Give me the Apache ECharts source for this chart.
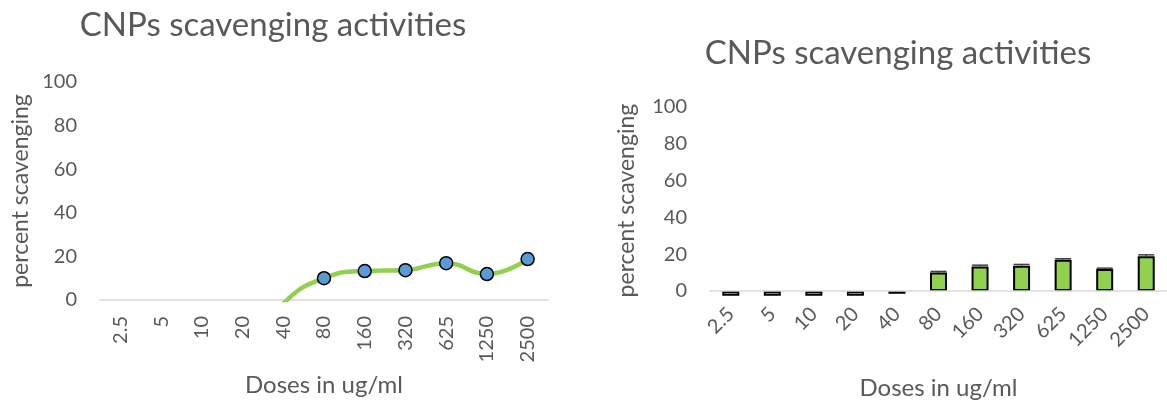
<!DOCTYPE html>
<html>
<head>
<meta charset="utf-8">
<script src="https://cdn.jsdelivr.net/npm/echarts@6/dist/echarts.min.js"></script>
<style>
  html, body { margin: 0; padding: 0; background: #fff; }
  #main { width: 1167px; height: 402px; }
</style>
</head>
<body>
<div id="main"></div>
<script>
// doses and percent scavenging (same data in both panels)
// the low doses sit below 0 and are clipped away in the original
var doses = ['2.5', '5', '10', '20', '40', '80', '160', '320', '625', '1250', '2500'];
var scavenging = [-25, -25, -25, -25, -1.5, 10.0, 13.3, 13.7, 16.9, 11.9, 18.8];
var errors = [0, 0, 0, 0, 0, 0.6, 0.7, 0.7, 0.6, 0.5, 0.8];
var yTicks = [0, 20, 40, 60, 80, 100];

var txt = '#595959';
var font = 'Lato';

var myChart = echarts.init(document.getElementById('main'));

// error bar caps for the bar panel
function renderErr(params, api) {
	if (api.value(1) < 0) return;
	var i = api.value(0);
	var top = api.coord([i, api.value(1) + api.value(2)]);
	var bot = api.coord([i, api.value(1)]);
	var w = 16;
	return {
		type: 'group',
		children: [
			{type: 'line', shape: {x1: top[0], y1: top[1], x2: bot[0], y2: bot[1]}, style: {stroke: '#404040', lineWidth: 1.2}},
			{type: 'line', shape: {x1: top[0] - w / 2, y1: top[1], x2: top[0] + w / 2, y2: top[1]}, style: {stroke: '#404040', lineWidth: 1.5}}
		]
	};
}

function xAx(idx, rot, gap) {
	return {
		type: 'category', gridIndex: idx, data: doses, z: 3,
		name: 'Doses in ug/ml', nameLocation: 'middle', nameGap: gap,
		nameTextStyle: {color: txt, fontSize: 24, fontFamily: font},
		axisLine: {onZero: true, lineStyle: {color: '#D9D9D9', width: 1.5}},
		axisTick: {show: false},
		axisLabel: {color: txt, fontSize: 20, fontFamily: font, rotate: rot, margin: 16, interval: 0}
	};
}
function yAx(idx, gap, min) {
	return {
		type: 'value', gridIndex: idx, min: min, max: yTicks[yTicks.length - 1],
		name: 'percent scavenging', nameLocation: 'middle', nameGap: gap,
		nameTextStyle: {color: txt, fontSize: 23, fontFamily: font},
		axisLine: {show: false}, axisTick: {show: false}, splitLine: {show: false},
		axisLabel: {color: txt, fontSize: 20, fontFamily: font, margin: 23, customValues: yTicks}
	};
}

var option = {
	animation: false,
	title: [
		{text: 'CNPs scavenging activities', left: 268, top: 4, textAlign: 'center',
		 textStyle: {color: txt, fontSize: 33, fontWeight: 'normal', fontFamily: font}},
		{text: 'CNPs scavenging activities', left: 893, top: 32, textAlign: 'center',
		 textStyle: {color: txt, fontSize: 33, fontWeight: 'normal', fontFamily: font}}
	],
	grid: [
		{left: 100, width: 448, top: 82, height: 219.5},
		{left: 710, right: -11, top: 106.5, height: 188.2}
	],
	xAxis: [xAx(0, 90, 73), xAx(1, 45, 82)],
	yAxis: [yAx(0, 68, 0), yAx(1, 72, -2)],
	series: [
		{
			type: 'line', xAxisIndex: 0, yAxisIndex: 0, data: scavenging,
			smooth: 0.5, clip: true,
			lineStyle: {color: '#92D050', width: 4.5},
			symbol: 'circle', symbolSize: 13,
			itemStyle: {color: '#5B9BD5', borderColor: '#000', borderWidth: 1.5}
		},
		{
			type: 'bar', xAxisIndex: 1, yAxisIndex: 1, data: scavenging,
			barWidth: 17, clip: true,
			itemStyle: {color: '#92D050', borderColor: '#000', borderWidth: 2}
		},
		{
			type: 'custom', xAxisIndex: 1, yAxisIndex: 1,
			data: doses.map(function(d, i) { return [i, scavenging[i], errors[i]]; }),
			renderItem: renderErr, z: 1
		}
	]
};
myChart.setOption(option);
</script>
</body>
</html>
